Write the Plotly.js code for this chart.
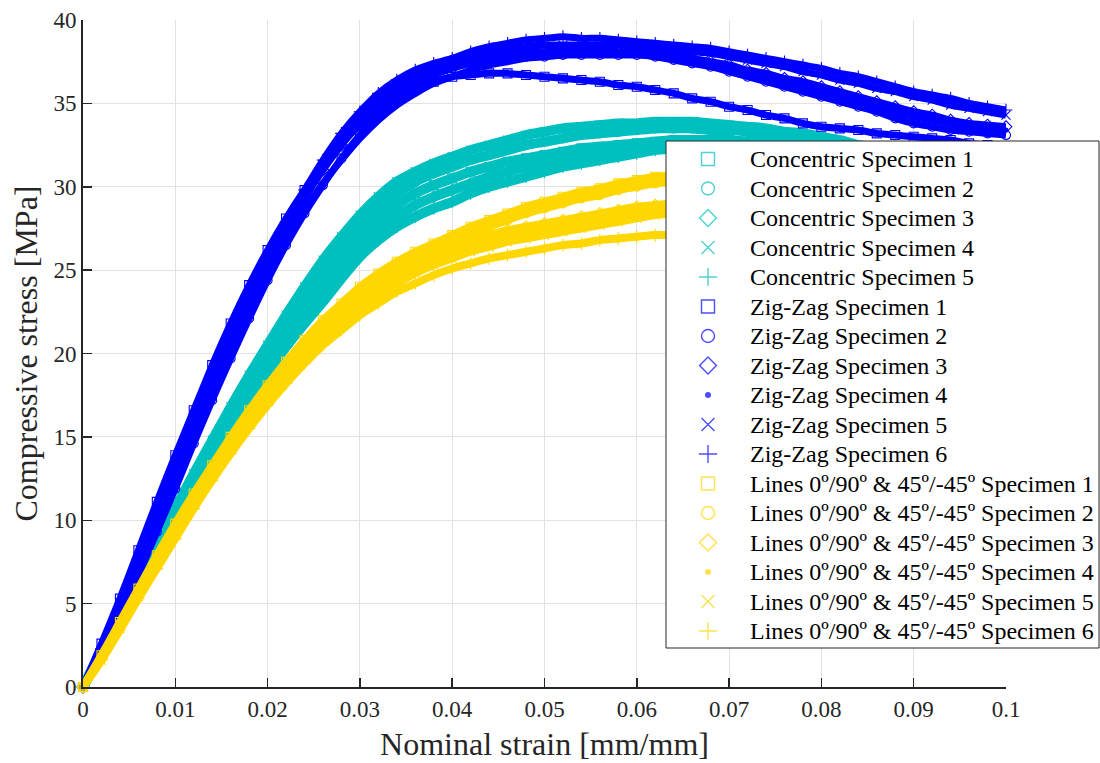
<!DOCTYPE html>
<html><head><meta charset="utf-8">
<script src="https://cdn.plot.ly/plotly-3.0.1.min.js"></script>
<style>html,body{margin:0;padding:0;background:#fff}#chart{width:1100px;height:763px}</style>
</head><body><div id="chart"></div>
<script>
// Nominal strain sampling positions [mm/mm]
const strain = [0,0.002,0.004,0.006,0.008,0.010,0.012,0.014,0.016,0.018,0.020,0.022,0.024,0.026,0.028,0.030,0.032,0.034,0.036,0.038,0.040,0.042,0.044,0.046,0.048,0.050,0.052,0.054,0.056,0.058,0.060,0.062,0.064,0.066,0.068,0.070,0.072,0.074,0.076,0.078,0.080,0.082,0.084,0.086,0.088,0.090,0.092,0.094,0.096,0.098,0.100];

// Concentric specimens, stress [MPa]
const conc1 = [0,2.1,4.2,6.2,8.2,10.2,12.2,14.2,16.1,18.0,19.8,21.5,23.0,24.4,25.7,26.9,28.0,28.9,29.6,30.1,30.5,30.9,31.2,31.5,31.7,31.9,32.1,32.3,32.4,32.5,32.6,32.7,32.8,32.8,32.8,32.8,32.7,32.6,32.5,32.4,32.2,32.0,31.8,31.5,31.2,30.9];
const conc2 = [0,2.1,4.3,6.4,8.5,10.5,12.5,14.5,16.4,18.3,20.1,21.8,23.4,24.9,26.3,27.6,28.7,29.6,30.3,30.8,31.2,31.6,31.9,32.2,32.5,32.7,32.9,33.1,33.2,33.3,33.4,33.5,33.5,33.5,33.4,33.4,33.3,33.1,33.0,32.8,32.6,32.4,32.2,31.9,31.6,31.3];
const conc3 = [0,2.0,4.1,6.1,8.1,10.1,12.1,14.0,15.9,17.7,19.4,21.0,22.5,23.9,25.2,26.4,27.4,28.2,28.9,29.4,29.8,30.2,30.6,30.9,31.2,31.4,31.6,31.8,32.0,32.1,32.3,32.4,32.5,32.6,32.6,32.6,32.6,32.5,32.4,32.3,32.1,31.9,31.7,31.4,31.1,30.8];
const conc4 = [0,2.2,4.4,6.5,8.6,10.7,12.8,14.8,16.8,18.7,20.5,22.3,24.0,25.6,27.0,28.3,29.4,30.3,30.9,31.4,31.8,32.2,32.5,32.8,33.1,33.3,33.5,33.6,33.7,33.8,33.8,33.9,33.9,33.9,33.8,33.7,33.6,33.5,33.3,33.2,33.0,32.8,32.5,32.3,32.0,31.7];
const conc5 = [0,2.0,4.0,6.0,8.0,10.0,11.9,13.8,15.6,17.3,18.9,20.4,21.8,23.1,24.5,25.8,26.8,27.6,28.2,28.7,29.1,29.6,30.0,30.3,30.6,30.9,31.2,31.4,31.6,31.8,32.0,32.2,32.3,32.4,32.5,32.5,32.5,32.4,32.3,32.2,32.0,31.8,31.6,31.3,31.0,30.7];

// Zig-Zag specimens, stress [MPa]
const zz1 = [0,2.6,5.3,8.2,11.1,13.9,16.6,19.3,21.8,24.1,26.2,28.1,29.8,31.3,32.6,33.7,34.6,35.3,35.9,36.3,36.6,36.7,36.8,36.8,36.7,36.6,36.5,36.4,36.3,36.1,36.0,35.8,35.6,35.3,35.1,34.8,34.6,34.3,34.1,33.8,33.6,33.5,33.4,33.2,33.1,33.0,32.9,32.8,32.6,32.5,32.4];
const zz2 = [0,2.0,4.1,6.7,9.3,11.9,14.6,17.2,19.7,22.1,24.4,26.5,28.4,30.1,31.7,33.1,34.3,35.3,36.1,36.7,37.1,37.4,37.6,37.7,37.8,37.8,37.9,37.9,37.9,37.9,37.9,37.8,37.6,37.4,37.2,36.9,36.6,36.3,36.0,35.7,35.4,35.1,34.8,34.5,34.1,33.8,33.6,33.4,33.3,33.2,33.1];
const zz3 = [0,2.2,4.5,7.3,10.1,12.9,15.6,18.3,20.8,23.2,25.4,27.4,29.3,31.0,32.5,33.8,34.9,35.8,36.4,36.9,37.3,37.6,37.8,38.0,38.1,38.1,38.2,38.2,38.2,38.1,38.1,38.0,37.9,37.7,37.5,37.3,37.0,36.8,36.5,36.3,36.0,35.7,35.4,35.1,34.8,34.5,34.3,34.0,33.8,33.7,33.6];
const zz4 = [0,2.3,4.6,7.2,9.9,12.6,15.3,17.9,20.4,22.8,24.9,26.9,28.6,30.2,31.6,32.9,34.0,34.9,35.6,36.2,36.6,37.0,37.3,37.5,37.7,37.8,37.9,38.0,38.0,38.0,38.0,37.8,37.7,37.5,37.3,37.1,36.8,36.5,36.3,36.0,35.7,35.4,35.1,34.8,34.5,34.2,34.0,33.8,33.6,33.5,33.4];
const zz5 = [0,2.2,4.5,7.2,10.0,12.8,15.6,18.3,20.9,23.3,25.5,27.7,29.6,31.3,32.9,34.1,35.2,36.0,36.6,37.1,37.5,37.8,38.1,38.3,38.4,38.5,38.5,38.5,38.5,38.5,38.4,38.3,38.2,38.1,38.0,37.8,37.6,37.4,37.2,36.9,36.7,36.4,36.2,35.9,35.7,35.4,35.2,34.9,34.7,34.5,34.3];
const zz6 = [0,2.3,4.6,7.4,10.3,13.1,15.9,18.6,21.1,23.5,25.8,27.9,29.8,31.6,33.2,34.5,35.6,36.4,37.0,37.4,37.7,38.1,38.4,38.6,38.8,38.9,39.0,38.9,38.9,38.8,38.7,38.6,38.5,38.4,38.3,38.1,37.9,37.7,37.5,37.3,37.1,36.8,36.6,36.3,36.0,35.7,35.5,35.3,35.0,34.8,34.6];

// Lines 0º/90º & 45º/-45º specimens, stress [MPa]
const ln1 = [0,1.9,3.9,5.9,7.9,9.8,11.6,13.3,15.0,16.6,18.1,19.5,20.8,22.0,23.0,24.0,24.8,25.5,26.1,26.6,27.1,27.6,28.0,28.4,28.8,29.1,29.4,29.7,29.9,30.2,30.4,30.6,30.7,30.9,31.0,31.1];
const ln2 = [0,1.8,3.8,5.8,7.7,9.6,11.4,13.1,14.8,16.4,17.9,19.3,20.6,21.8,22.8,23.7,24.5,25.2,25.8,26.3,26.8,27.2,27.6,28.0,28.4,28.7,29.0,29.3,29.5,29.8,30.0,30.2,30.3,30.5,30.6,30.7];
const ln3 = [0,1.7,3.7,5.6,7.5,9.4,11.2,12.9,14.5,16.1,17.6,19.0,20.3,21.4,22.4,23.3,24.1,24.8,25.4,25.9,26.4,26.8,27.1,27.4,27.6,27.8,28.0,28.2,28.4,28.6,28.8,28.9,29.0,29.1,29.2,29.3];
const ln4 = [0,1.7,3.6,5.5,7.4,9.3,11.1,12.8,14.4,16.0,17.4,18.8,20.0,21.1,22.1,23.0,23.8,24.5,25.1,25.6,26.1,26.5,26.8,27.1,27.3,27.5,27.7,27.9,28.1,28.3,28.5,28.6,28.7,28.8,28.9,29.0];
const ln5 = [0,1.6,3.5,5.4,7.3,9.1,10.9,12.6,14.2,15.7,17.1,18.5,19.7,20.8,21.8,22.7,23.5,24.2,24.8,25.3,25.7,26.1,26.4,26.7,26.9,27.1,27.3,27.5,27.7,27.9,28.1,28.3,28.4,28.5,28.6,28.7];
const ln6 = [0,1.6,3.4,5.3,7.1,8.9,10.7,12.4,14.0,15.5,16.9,18.2,19.4,20.5,21.4,22.3,23.0,23.7,24.2,24.7,25.1,25.4,25.7,25.9,26.1,26.3,26.5,26.6,26.8,26.9,27.0,27.1,27.1,27.2,27.2,27.3];

const seriesNames = [
  'Concentric Specimen 1','Concentric Specimen 2','Concentric Specimen 3','Concentric Specimen 4','Concentric Specimen 5',
  'Zig-Zag Specimen 1','Zig-Zag Specimen 2','Zig-Zag Specimen 3','Zig-Zag Specimen 4','Zig-Zag Specimen 5','Zig-Zag Specimen 6',
  'Lines 0º/90º & 45º/-45º Specimen 1','Lines 0º/90º & 45º/-45º Specimen 2','Lines 0º/90º & 45º/-45º Specimen 3',
  'Lines 0º/90º & 45º/-45º Specimen 4','Lines 0º/90º & 45º/-45º Specimen 5','Lines 0º/90º & 45º/-45º Specimen 6'
];
const seriesData = [conc1,conc2,conc3,conc4,conc5,zz1,zz2,zz3,zz4,zz5,zz6,ln1,ln2,ln3,ln4,ln5,ln6];

const CYAN = '#00BFBF', BLUE = '#0000FF', GOLD = '#FFD700';
const styles = [
  {c:CYAN,s:'square-open'},{c:CYAN,s:'circle-open'},{c:CYAN,s:'diamond-open'},{c:CYAN,s:'x-thin-open'},{c:CYAN,s:'cross-thin-open'},
  {c:BLUE,s:'square-open'},{c:BLUE,s:'circle-open'},{c:BLUE,s:'diamond-open'},{c:BLUE,s:'circle'},{c:BLUE,s:'x-thin-open'},{c:BLUE,s:'cross-thin-open'},
  {c:GOLD,s:'square-open'},{c:GOLD,s:'circle-open'},{c:GOLD,s:'diamond-open'},{c:GOLD,s:'circle'},{c:GOLD,s:'x-thin-open'},{c:GOLD,s:'cross-thin-open'}
];
const bandWidth = {}; bandWidth[CYAN] = 10; bandWidth[BLUE] = 7; bandWidth[GOLD] = 8;

const traces = [];
seriesData.forEach((ys, i) => {
  const st = styles[i];
  const xs = strain.slice(0, ys.length);
  const dot = st.s === 'circle';
  traces.push({x: xs, y: ys, mode: 'lines', type: 'scatter', showlegend: false, hoverinfo: 'skip', cliponaxis: false,
    line: {color: st.c, width: bandWidth[st.c], shape: 'spline', smoothing: 0.6}});
  traces.push({x: xs, y: ys, mode: 'markers', type: 'scatter', name: seriesNames[i], showlegend: false, cliponaxis: false,
    marker: {symbol: st.s, size: dot ? 5 : 9, color: st.c, line: {color: st.c, width: dot ? 0 : 1.1}}});
});

// Legend box geometry (pixel units of the overlay frame)
const LEG = {left: 666, right: 1099, top: 141, bottom: 648, row0: 159, step: 29.5, markX: 708, textX: 748};
const legRows = seriesNames.map((n, i) => LEG.row0 + i * LEG.step);

traces.push({x: [LEG.left, LEG.right, LEG.right, LEG.left, LEG.left], y: [LEG.top, LEG.top, LEG.bottom, LEG.bottom, LEG.top],
  xaxis: 'x2', yaxis: 'y2', mode: 'lines', fill: 'toself', fillcolor: '#ffffff', line: {color: '#262626', width: 1},
  showlegend: false, hoverinfo: 'skip'});
traces.push({x: legRows.map(() => LEG.markX), y: legRows, xaxis: 'x2', yaxis: 'y2', mode: 'markers', showlegend: false,
  hoverinfo: 'skip', cliponaxis: false,
  marker: {symbol: styles.map(s => s.s), size: styles.map(s => s.s === 'circle' ? 6 : 13), color: styles.map(s => s.c),
    line: {color: styles.map(s => s.c), width: styles.map(s => s.s === 'circle' ? 0 : 1.4)}}});

const fontFam = '"Liberation Serif", "Times New Roman", serif';
const annotations = seriesNames.map((n, i) => ({
  xref: 'x2', yref: 'y2', x: LEG.textX, y: legRows[i], text: n, showarrow: false,
  xanchor: 'left', yanchor: 'middle', font: {family: fontFam, size: 24, color: '#000000'}
}));

const layout = {
  width: 1100, height: 763,
  margin: {l: 83, r: 0, t: 20, b: 76},
  paper_bgcolor: '#ffffff', plot_bgcolor: 'rgba(0,0,0,0)',
  font: {family: fontFam, color: '#262626'},
  showlegend: false,
  xaxis: {
    domain: [0, 923 / 1017],
    range: [0, 0.1], tick0: 0, dtick: 0.01, ticks: 'inside', ticklen: 9, tickwidth: 1.5, tickcolor: '#262626',
    showline: true, linecolor: '#262626', linewidth: 2, showgrid: true, gridcolor: '#e2e2e2', gridwidth: 1,
    zeroline: false, tickfont: {family: fontFam, size: 23, color: '#262626'},
    title: {text: 'Nominal strain [mm/mm]', font: {family: fontFam, size: 32, color: '#262626'}, standoff: 12}
  },
  yaxis: {
    domain: [0, 1],
    range: [0, 40], tick0: 0, dtick: 5, ticks: 'inside', ticklen: 9, tickwidth: 1.5, tickcolor: '#262626',
    showline: true, linecolor: '#262626', linewidth: 2, showgrid: true, gridcolor: '#e2e2e2', gridwidth: 1,
    zeroline: false, tickfont: {family: fontFam, size: 23, color: '#262626'},
    title: {text: 'Compressive stress [MPa]', font: {family: fontFam, size: 32, color: '#262626'}, standoff: 6}
  },
  xaxis2: {domain: [0, 1], range: [83, 1100], anchor: 'y2', visible: false, fixedrange: true},
  yaxis2: {domain: [0, 1], range: [687, 20], anchor: 'x2', visible: false, fixedrange: true},
  annotations: annotations
};

Plotly.newPlot('chart', traces, layout, {displayModeBar: false, staticPlot: true});
</script>
</body></html>
